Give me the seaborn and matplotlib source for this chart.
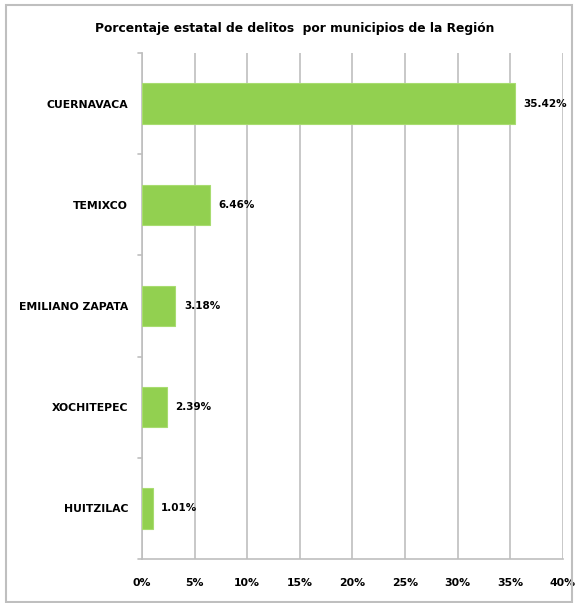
import pandas as pd
import matplotlib.pyplot as plt
import seaborn as sns
from matplotlib.ticker import MultipleLocator, FuncFormatter
from matplotlib.patches import Rectangle

municipios = ["CUERNAVACA", "TEMIXCO", "EMILIANO ZAPATA", "XOCHITEPEC", "HUITZILAC"]
porcentajes = [35.42, 6.46, 3.18, 2.39, 1.01]
etiquetas = ["35.42%", "6.46%", "3.18%", "2.39%", "1.01%"]

df = pd.DataFrame({"municipio": municipios, "pct": porcentajes})

sns.set_style("white")
plt.rcParams["font.family"] = ["Liberation Sans Narrow", "DejaVu Sans"]
plt.rcParams["text.color"] = "black"
plt.rcParams["xtick.color"] = "black"
plt.rcParams["ytick.color"] = "black"

fig = plt.figure(figsize=(5.76, 6.03), dpi=100)
ax = fig.add_axes([0.2465, 0.073, 0.7305, 0.839])

sns.barplot(data=df, x="pct", y="municipio", color="#92D050", width=0.4,
            edgecolor="#a8dc70", linewidth=0.8, saturation=1, ax=ax, zorder=3)

ax.set_xlim(0, 40)
ax.set_ylim(len(municipios) - 0.5, -0.5)
ax.xaxis.set_major_locator(MultipleLocator(5))
ax.xaxis.set_major_formatter(FuncFormatter(lambda v, p: f"{int(v)}%"))
ax.grid(axis="x", color="#bfbfbf", linewidth=1.2, zorder=0)
ax.set_xlabel("")
ax.set_ylabel("")

for s in ["top", "right"]:
    ax.spines[s].set_visible(False)
for s in ["left", "bottom"]:
    ax.spines[s].set_color("#bfbfbf")
    ax.spines[s].set_linewidth(1.2)

ax.set_yticks(range(len(municipios)))
ax.set_yticklabels(municipios, fontsize=7.8, fontweight="bold")
ax.tick_params(axis="y", length=0, pad=10)
ax.tick_params(axis="x", length=4, color="#bfbfbf", width=1.2, labelsize=7.8, pad=10)
for lbl in ax.get_xticklabels():
    lbl.set_fontweight("bold")
# tick marks between categories like Excel
for yb in [-0.5 + i for i in range(len(municipios) + 1)]:
    ax.plot([-0.01, 0], [yb, yb], color="#bfbfbf", lw=1.2, clip_on=False,
            transform=ax.get_yaxis_transform())

for i, (v, t) in enumerate(zip(porcentajes, etiquetas)):
    ax.text(v + 0.8, i, t, va="center", ha="left", fontsize=7.5, fontweight="bold")

fig.text(0.512, 0.952, "Porcentaje estatal de delitos  por municipios de la Región",
         ha="center", va="center", fontsize=8.8, fontweight="bold")

fig.patches.append(Rectangle((0.011, 0.002), 0.982, 0.99, transform=fig.transFigure,
                             fill=False, edgecolor="#bfbfbf", linewidth=1.5))

fig.savefig("out.png", dpi=100)
